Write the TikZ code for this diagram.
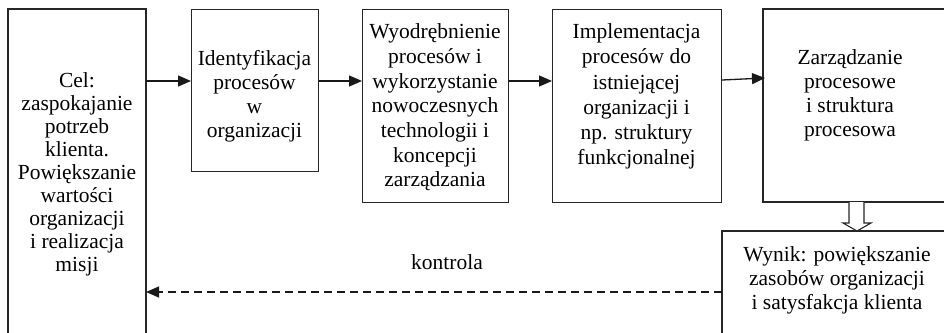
\documentclass[tikz,border=0pt]{standalone}
\usepackage{fontspec}
\setmainfont{Liberation Serif}
\usetikzlibrary{arrows.meta}
\begin{document}
\begin{tikzpicture}[x=1pt,y=-1pt,
  box/.style={draw=black!85,line width=1.1pt},
  txt/.style={align=center,inner sep=0pt,font=\fontsize{21.5}{24}\selectfont},
  flow/.style={line width=1.3pt,draw=black!90,-{Triangle[length=13pt,width=11pt]}},
  back/.style={line width=1.3pt,draw=black!90,dash pattern=on 8pt off 5pt,-{Triangle[length=13pt,width=11pt]}}]
\useasboundingbox (0,0) rectangle (944,332);
\clip (0,0) rectangle (944,332);
% boxes
\draw[box] (8,340) -- (8,9) -- (146,9) -- (146,340);
\node[box,minimum width=127pt,minimum height=162pt,anchor=north west] (ident) at (191,9) {};
\node[box,minimum width=146pt,minimum height=193pt,anchor=north west] (wyod) at (362,9) {};
\node[box,minimum width=169pt,minimum height=193pt,anchor=north west] (impl) at (552,9) {};
\draw[box] (960,9) -- (763,9) -- (763,202) -- (960,202);
\draw[box] (960,231) -- (722,231) -- (722,340);
\coordinate (celR1) at (146,81);
\coordinate (celR2) at (146,292);
\coordinate (zarzL) at (765,78);
\coordinate (wynL) at (722,292);
% texts
\node[txt,font=\fontsize{21.5}{23}\selectfont] (celt) at (77,174.5) {Cel:\\zaspokajanie\\potrzeb\\klienta.\\Powiększanie\\wartości\\organizacji\\i realizacja\\misji};
\node[txt] (identt) at (254.5,96) {Identyfikacja\\procesów\\w\\organizacji};
\node[txt,font=\fontsize{21.5}{24.7}\selectfont] (wyodt) at (435,107.5) {Wyodrębnienie\\procesów i\\wykorzystanie\\nowoczesnych\\technologii i\\koncepcji\\zarządzania};
\node[txt,font=\fontsize{21.5}{25.2}\selectfont] (implt) at (636.5,96.5) {Implementacja\\procesów do\\istniejącej\\organizacji i\\np. struktury\\funkcjonalnej};
\node[txt] (zarzt) at (850,95.5) {Zarządzanie\\procesowe\\i struktura\\procesowa};
\node[txt] (wynt) at (837,280.5) {Wynik: powiększanie\\zasobów organizacji\\i satysfakcja klienta};
\node[txt,anchor=base] (kontrola) at (447,269) {kontrola};
% connectors
\draw[flow] (celR1) -- (ident.west |- celR1);
\draw[flow] (ident.east |- celR1) -- (wyod.west |- celR1);
\draw[flow] (wyod.east |- celR1) -- (impl.west |- celR1);
\draw[flow] (impl.east |- 0,80) -- (zarzL);
\draw[back] (wynL) -- (celR2);
% hollow arrow
\draw[line width=1.1pt,draw=black!85,fill=white,line join=miter]
  (849,202) -- (849,223) -- (843,223) -- (857,231) -- (871,223) -- (864,223) -- (864,202);
\end{tikzpicture}
\end{document}
